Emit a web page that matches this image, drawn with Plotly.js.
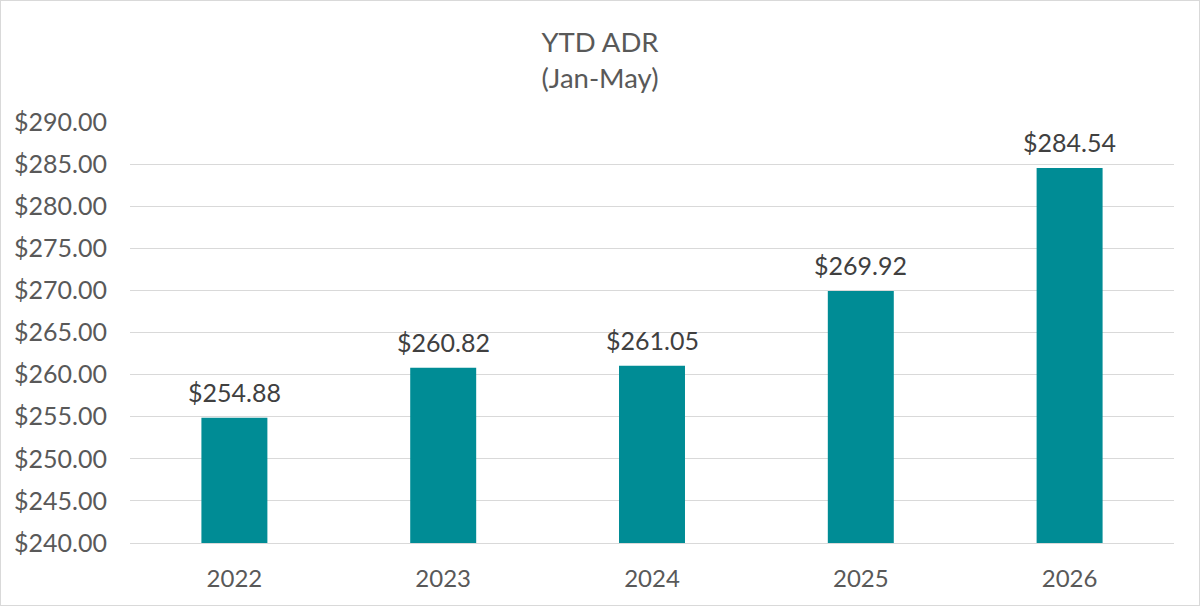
<!DOCTYPE html>
<html>
<head>
<meta charset="utf-8">
<script src="https://cdn.plot.ly/plotly-3.0.1.min.js"></script>
<style>
html,body{margin:0;padding:0;background:#fff;}
#wrap{width:1198px;height:604px;border:1px solid #d9d9d9;}
#chart{width:1198px;height:604px;}
</style>
</head>
<body>
<div id="wrap"><div id="chart"></div></div>
<script>
const years = ["2022", "2023", "2024", "2025", "2026"];
const adr = [254.88, 260.82, 261.05, 269.92, 284.54];
const tickValues = [240, 245, 250, 255, 260, 265, 270, 275, 280, 285, 290];
const tickLabels = tickValues.map(v => "$" + v.toFixed(2));
const labels = adr.map(v => "$" + v.toFixed(2));

const FONT = "Lato, 'Open Sans', sans-serif";

const trace = {
  type: "bar",
  x: years,
  y: adr,
  marker: {color: "#008C95"},
  hoverinfo: "x+y"
};

// category axis: annotation x given as category index
const annotations = years.map((yr, i) => ({
  x: i,
  y: adr[i],
  xref: "x",
  yref: "y",
  text: labels[i],
  showarrow: false,
  xanchor: "center",
  yanchor: "bottom",
  yshift: 9,
  font: {family: FONT, size: 25, color: "#404040"}
}));

const layout = {
  width: 1198,
  height: 604,
  margin: {l: 129, r: 25, t: 121, b: 62, pad: 0},
  paper_bgcolor: "#ffffff",
  plot_bgcolor: "#ffffff",
  bargap: 0.684,
  showlegend: false,
  annotations: annotations,
  title: {
    text: "YTD ADR<br>(Jan-May)",
    x: 0.5, xanchor: "center",
    yref: "container",
    y: 0.915, yanchor: "middle",
    font: {family: FONT, size: 27.5, color: "#595959"}
  },
  xaxis: {
    type: "category",
    range: [-0.5, 4.5],
    showgrid: false,
    showline: true,
    linecolor: "#d9d9d9",
    linewidth: 1,
    ticks: "",
    tickfont: {family: FONT, size: 24, color: "#595959"},
    ticklabelstandoff: 14
  },
  yaxis: {
    range: [240, 290],
    tickvals: tickValues,
    ticktext: tickLabels,
    showgrid: true,
    gridcolor: "#d9d9d9",
    gridwidth: 1,
    zeroline: false,
    showline: false,
    ticks: "",
    tickfont: {family: FONT, size: 25, color: "#595959"},
    ticklabelstandoff: 22
  }
};

Plotly.newPlot("chart", [trace], layout, {displayModeBar: false, staticPlot: true});
</script>
</body>
</html>
